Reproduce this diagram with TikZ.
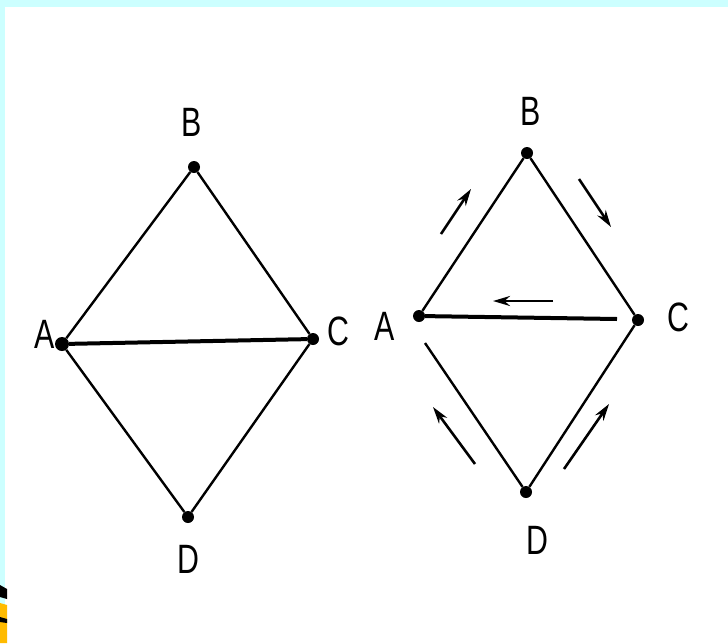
\documentclass[tikz,border=0pt]{standalone}
\usepackage{fontspec}
\newfontfamily\lblfont[FakeStretch=0.74]{Liberation Sans}
\usetikzlibrary{arrows.meta}
\definecolor{framecyan}{HTML}{CCFFFF}
\definecolor{ornyellow}{HTML}{FFBB00}

\begin{document}
\begin{tikzpicture}[
  x=1pt, y=-1pt,
  vertex/.style={circle, fill=black, inner sep=0pt, minimum size=12pt},
  letter/.style={font=\lblfont\fontsize{41}{41}\selectfont, inner sep=0pt},
  edge/.style={line width=2.4pt},
  chord/.style={line width=4pt},
  flowarrow/.style={-{Stealth[length=17pt,width=10pt]}, line width=2.6pt}
]

% Page with frame and corner ornament.
\useasboundingbox (0,0) rectangle (728,643);
\fill[white] (0,0) rectangle (728,643);
\fill[framecyan] (0,0) rectangle (728,7);
\fill[framecyan] (0,0) rectangle (5,643);
\fill[ornyellow] (0,603) -- (7,605) -- (7,643) -- (0,643) -- cycle;
\fill[black] (0,585) -- (7,589) -- (7,599) -- (0,597) -- cycle;
\fill[black] (0,617) -- (7,619) -- (7,623) -- (0,622) -- cycle;

% Left graph.
\node[vertex, minimum size=14pt] (lA) at (62,344) {};
\node[vertex] (lB) at (194,167) {};
\node[vertex] (lC) at (313,339) {};
\node[vertex] (lD) at (188,517) {};
\node[letter] (lAlabel) at (45,334) {A};
\node[letter] (lBlabel) at (192,122) {B};
\node[letter] (lClabel) at (338,331) {C};
\node[letter] (lDlabel) at (188,559) {D};

\draw[edge] (lA) -- (lB);
\draw[edge] (lB) -- (lC);
\draw[edge] (lC) -- (lD);
\draw[edge] (lD) -- (lA);
\draw[chord] (lA) -- (lC);

% Right graph with directions.
\node[vertex] (rA) at (419,316) {};
\node[vertex] (rB) at (527,153) {};
\node[vertex] (rC) at (638,320) {};
\node[vertex] (rD) at (526,492) {};
\node[letter] (rAlabel) at (385,326) {A};
\node[letter] (rBlabel) at (531,111) {B};
\node[letter] (rClabel) at (678,317) {C};
\node[letter] (rDlabel) at (537,540) {D};

\coordinate (acEnd) at (617,319);
\coordinate (adEnd) at (425,343);

\draw[edge] (rA) -- (rB);
\draw[edge] (rB) -- (rC);
\draw[edge] (rC) -- (rD);
\draw[edge] (rD) -- (adEnd);
\draw[chord] (rA) -- (acEnd);

% Direction marks beside the edges.
\coordinate (abTail) at (441,234);
\coordinate (abTip) at (471,189);
\coordinate (bcTail) at (579,179);
\coordinate (bcTip) at (611,227);
\coordinate (caTail) at (553,301);
\coordinate (caTip) at (493,301);
\coordinate (daTail) at (475,464);
\coordinate (daTip) at (433,407);
\coordinate (dcTail) at (564,469);
\coordinate (dcTip) at (609,404);

\draw[flowarrow] (abTail) -- (abTip);
\draw[flowarrow] (bcTail) -- (bcTip);
\draw[flowarrow] (caTail) -- (caTip);
\draw[flowarrow] (daTail) -- (daTip);
\draw[flowarrow] (dcTail) -- (dcTip);

\end{tikzpicture}
\end{document}
